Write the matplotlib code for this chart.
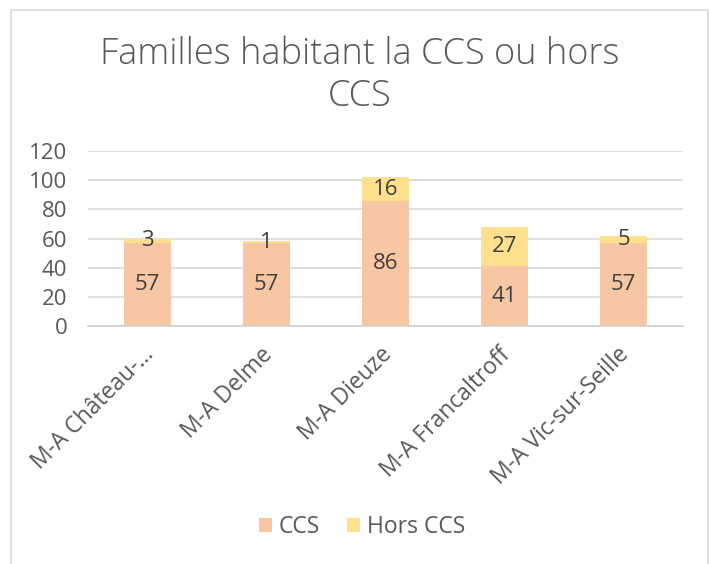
import numpy as np
import matplotlib.pyplot as plt
import matplotlib.transforms as mtransforms
from matplotlib.patches import Rectangle

# Données
etablissements = ["M-A Château-...", "M-A Delme", "M-A Dieuze", "M-A Francaltroff", "M-A Vic-sur-Seille"]
ccs = [57, 57, 86, 41, 57]
hors_ccs = [3, 1, 16, 27, 5]

couleur_ccs = "#F7C6A3"
couleur_hors = "#FFE08E"
gris_texte = "#595959"

plt.rcParams['font.family'] = ['Open Sans', 'DejaVu Sans']

fig = plt.figure(figsize=(7.1, 5.64), dpi=100)
ax = fig.add_axes([0.124, 0.422, 0.838, 0.31])

x = np.arange(len(etablissements))
largeur = 0.4
b1 = ax.bar(x, ccs, largeur, color=couleur_ccs, label="CCS", zorder=2)
b2 = ax.bar(x, hors_ccs, largeur, bottom=ccs, color=couleur_hors, label="Hors CCS", zorder=2)

# Étiquettes de données
for xi, v in zip(x, ccs):
    ax.text(xi, v / 2, str(v), ha='center', va='center', fontsize=16, color="#404040", zorder=3)
for xi, v, b in zip(x, hors_ccs, ccs):
    ax.text(xi, b + v / 2, str(v), ha='center', va='center', fontsize=16, color="#404040", zorder=3)

ax.set_ylim(0, 120)
ax.set_yticks(range(0, 121, 20))
ax.set_xlim(-0.5, len(etablissements) - 0.5)
ax.set_xticks(x)
ax.set_xticklabels(etablissements, rotation=45, ha='right', rotation_mode='anchor')
ax.tick_params(axis='y', length=0, labelsize=16, colors=gris_texte, pad=15)
ax.tick_params(axis='x', length=0, labelsize=16.5, colors=gris_texte, pad=12)
decalage = mtransforms.ScaledTranslation(-6 / 100, 0, fig.dpi_scale_trans)
for lab in ax.get_xticklabels():
    lab.set_transform(lab.get_transform() + decalage)

ax.grid(axis='y', color="#D9D9D9", linewidth=1.2, zorder=0)
for s in ['top', 'right', 'left']:
    ax.spines[s].set_visible(False)
ax.spines['bottom'].set_color("#D0D0D0")
ax.spines['bottom'].set_linewidth(1.2)

fig.text(0.506, 0.866, "Familles habitant la CCS ou hors\nCCS", ha='center', va='center',
         fontsize=26, color=gris_texte, fontweight='light', linespacing=1.15)

leg = fig.legend(handles=[b1, b2], loc='center', bbox_to_anchor=(0.51, 0.066), ncol=2, frameon=False,
                 fontsize=16.5, labelcolor=gris_texte, handlelength=0.55, handleheight=0.55,
                 handletextpad=0.3, columnspacing=1.2)

# Cadre du graphique
fig.patches.append(Rectangle((11 / 710, -0.01), 697 / 710, 1 - 10 / 564 + 0.01,
                             transform=fig.transFigure, fill=False, edgecolor="#D9D9D9", linewidth=1.2))

plt.savefig("out.png", dpi=100)
